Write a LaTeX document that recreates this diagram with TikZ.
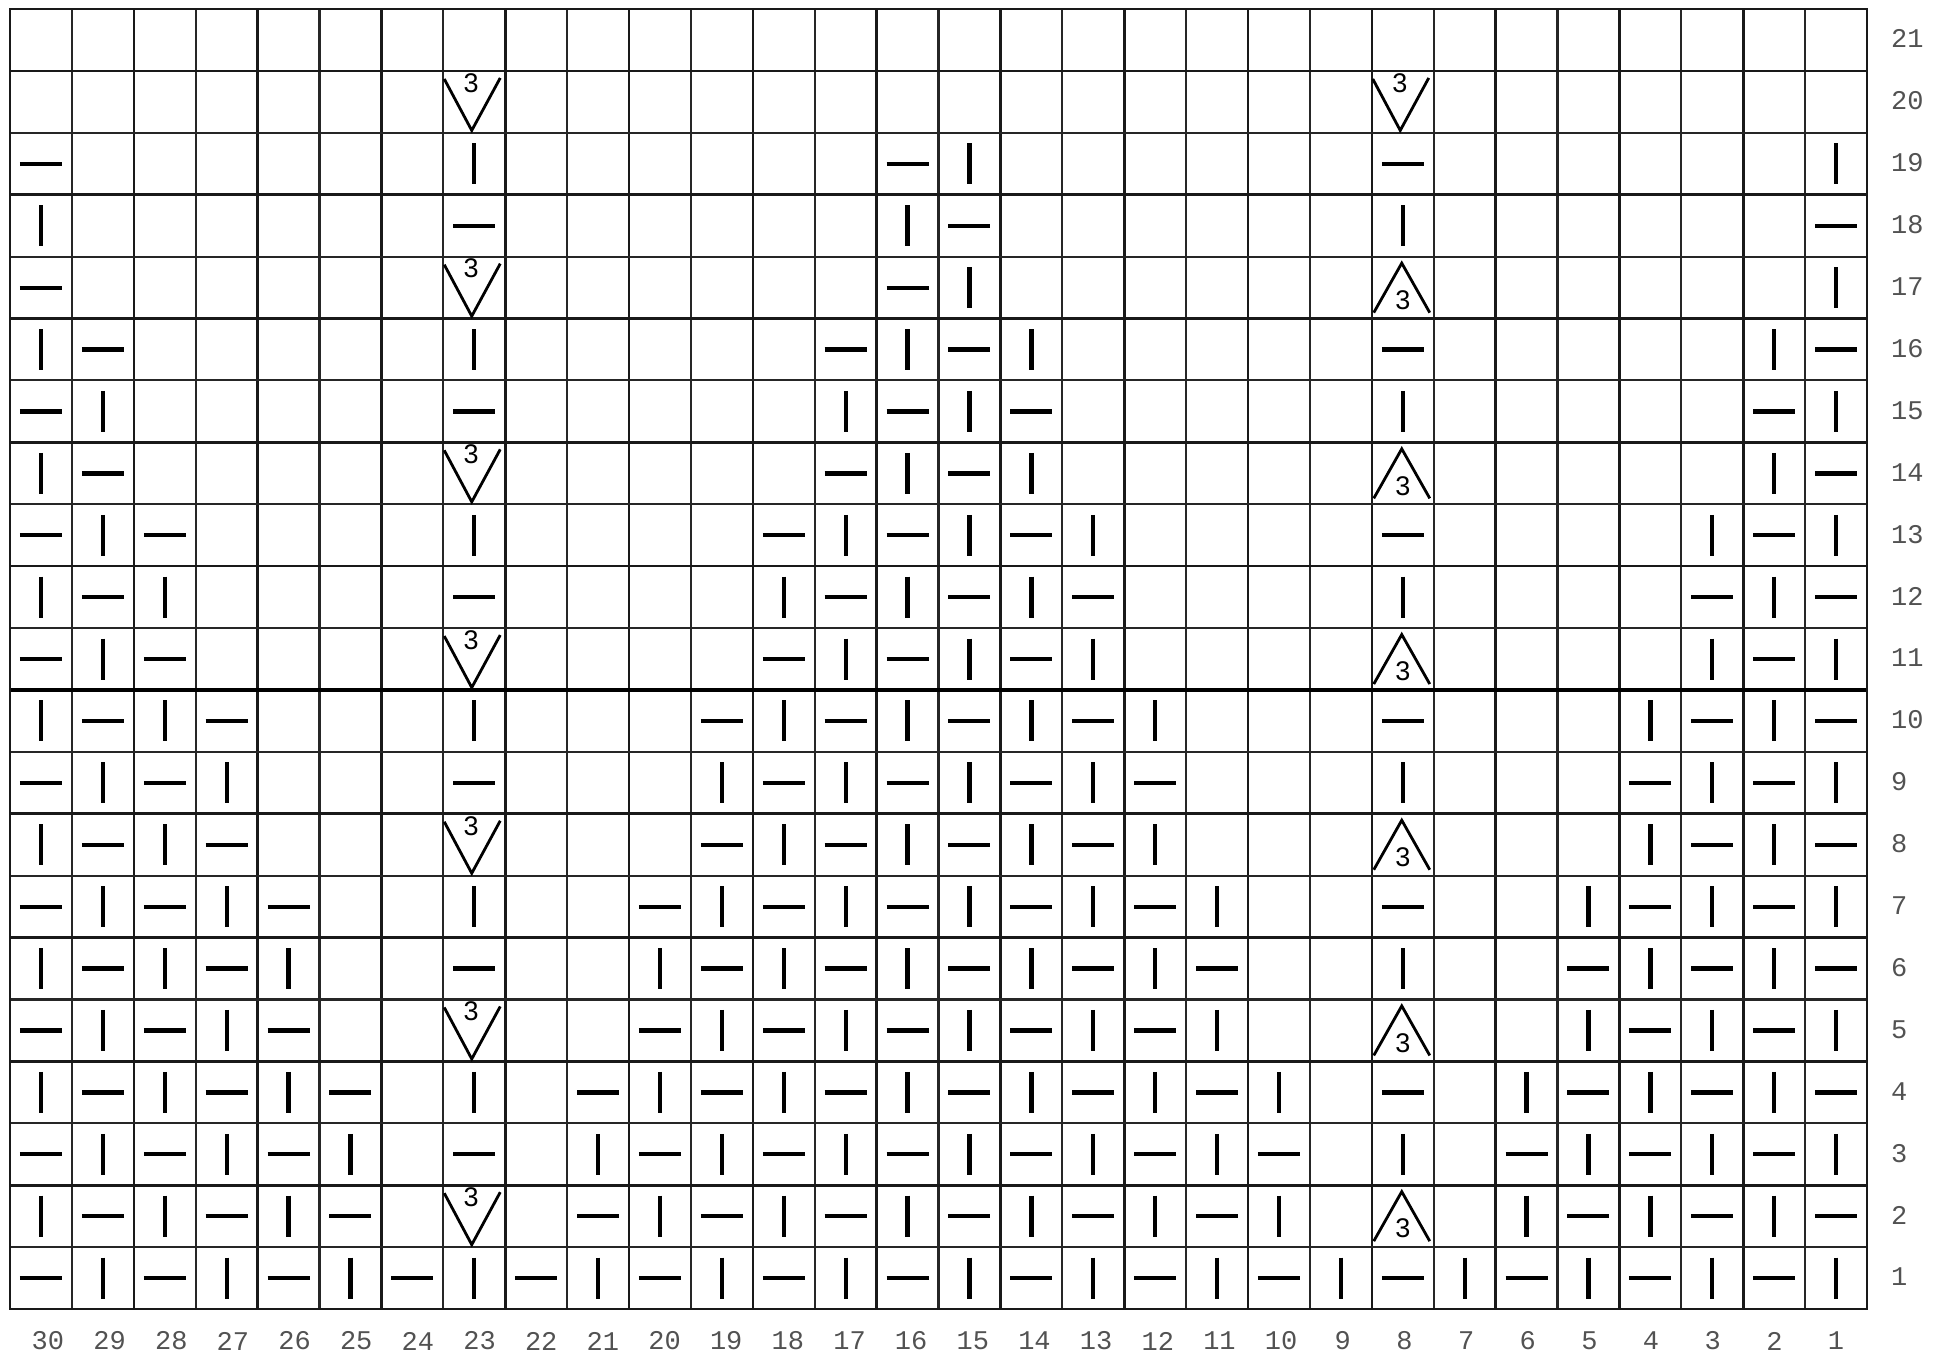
\documentclass[tikz,border=0pt]{standalone}
\usepackage{fontspec}
\newfontfamily\labfont{Liberation Mono}
\newfontfamily\threefont{Liberation Sans}
\tikzset{
  knit/.style={line width=4.3pt, draw=black, line cap=butt},
  dec/.style={line width=2.8pt, draw=black, line join=miter, line cap=butt},
  three/.style={inner sep=0pt, font=\threefont\fontsize{27}{29}\selectfont, text=black},
  gthick/.style={line width=2.6pt, draw=black!90},
  gthin/.style={line width=2.1pt, draw=black!85},
  gbold/.style={line width=3.6pt, draw=black},
  lab/.style={inner sep=0pt, font=\labfont\fontsize{27}{30}\selectfont, text=black!68},
}
\newcommand\cellxy[2]{\pgfmathsetmacro\X{1867-61.9*(#1-0.5)}\pgfmathsetmacro\Y{1309-61.9*(#2-0.5)}}
\newcommand\Kst[2]{\cellxy{#1}{#2}\draw[knit] (\X,\Y-20.5) -- (\X,\Y+20.5);}
\newcommand\Pst[2]{\cellxy{#1}{#2}\draw[knit] (\X-21,\Y) -- (\X+21,\Y);}
\newcommand\Vst[2]{\cellxy{#1}{#2}\draw[dec] (\X-30,\Y-23) -- (\X-2.5,\Y+28.5) -- (\X+26,\Y-24);
  \node[three] (v#1-#2) at (\X-3,\Y-19) {3};}
\newcommand\Ast[2]{\cellxy{#1}{#2}\draw[dec] (\X-29,\Y+25) -- (\X-1,\Y-24.5) -- (\X+27,\Y+25);
  \node[three] (a#1-#2) at (\X,\Y+12.5) {3};}
\newcommand\St[2]{\pgfmathtruncatemacro\ss{#1+#2}\ifodd\ss\relax\Pst{#1}{#2}\else\Kst{#1}{#2}\fi}
\begin{document}
\begin{tikzpicture}[x=1pt,y=-1pt]
\fill[white] (0,0) rectangle (1946,1359);
\useasboundingbox (0,0) rectangle (1946,1359);
% grid
\foreach \k in {0,...,30}{
  \pgfmathsetmacro\gx{10+61.9*\k}
  \ifodd\k\relax \draw[gthin] (\gx,9) -- (\gx,1309);
  \else \draw[gthick] (\gx,9) -- (\gx,1309); \fi
}
\foreach \k in {0,...,21}{
  \pgfmathsetmacro\gy{9+61.905*\k}
  \ifodd\k\relax \draw[gthick] (10,\gy) -- (1867,\gy);
  \else \draw[gthin] (10,\gy) -- (1867,\gy); \fi
}
\draw[gbold] (10,690.0) -- (1867,690.0);
\draw[gthick] (10,9) rectangle (1867,1309);
% stitches: diamond-shaped regions
\foreach \n in {1,...,6}{
  \pgfmathtruncatemacro\ra{20-3*\n}
  \pgfmathtruncatemacro\rb{22-3*\n}
  \pgfmathtruncatemacro\la{31-\n}
  \pgfmathtruncatemacro\ma{16-\n}
  \pgfmathtruncatemacro\mb{15+\n}
  \foreach \r in {\ra,...,\rb}{
    \foreach \c in {\la,...,30}{\St{\c}{\r}}
    \foreach \c in {\ma,...,\mb}{\St{\c}{\r}}
    \foreach \c in {1,...,\n}{\St{\c}{\r}}
  }
}
% row 1
\foreach \c in {1,...,30}{\St{\c}{1}}
% column 23
\foreach \r in {2,...,20}{
  \pgfmathtruncatemacro\m{mod(\r,3)}
  \ifnum\m=2 \Vst{23}{\r}\else\ifnum\m=1 \Kst{23}{\r}\else\Pst{23}{\r}\fi\fi
}
% column 8
\foreach \r in {2,...,19}{
  \pgfmathtruncatemacro\m{mod(\r,3)}
  \ifnum\m=2 \Ast{8}{\r}\else\ifnum\m=0 \Kst{8}{\r}\else\Pst{8}{\r}\fi\fi
}
\Vst{8}{20}
% labels
\foreach \c in {1,...,30}{
  \pgfmathsetmacro\lx{1867-61.9*(\c-0.5)+(\c-1)*7/29}
  \node[lab] (col\c) at (\lx,1341) {\c};
}
\foreach \r in {1,...,21}{
  \pgfmathsetmacro\ly{1309-61.905*(\r-0.5)-1}
  \node[lab, anchor=west] (row\r) at (1891,\ly) {\r};
}
\end{tikzpicture}
\end{document}
